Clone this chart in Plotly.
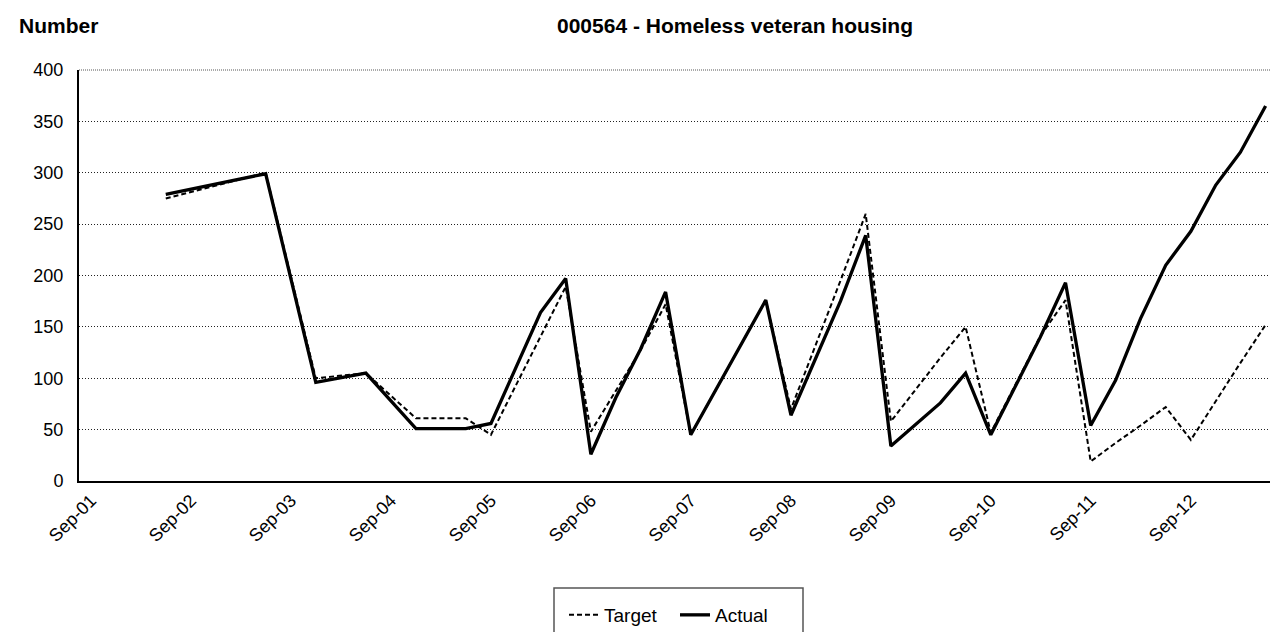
import plotly.graph_objects as go

dates = ["2002-06-01", "2003-06-01", "2003-12-01", "2004-06-01", "2004-12-01", "2005-06-01",
         "2005-09-01", "2006-03-01", "2006-06-01", "2006-09-01", "2006-12-01", "2007-03-01",
         "2007-06-01", "2007-09-01", "2008-06-01", "2008-09-01", "2009-03-01", "2009-06-01",
         "2009-09-01", "2010-03-01", "2010-06-01", "2010-09-01", "2011-03-01", "2011-06-01",
         "2011-09-01", "2011-12-01", "2012-03-01", "2012-06-01", "2012-09-01", "2012-12-01",
         "2013-03-01", "2013-06-01"]
target = [275, 300, 100, 105, 61, 61,
          45, 140, 189, 48, 88, 127,
          172, 45, 176, 70, 195, 260,
          58, 120, 150, 47, 141, 176,
          19, 37, 54, 72, 40, 78,
          115, 152]
actual = [279, 299, 96, 105, 51, 51,
          56, 164, 197, 26, 81, 128,
          184, 45, 176, 64, 175, 239,
          34, 76, 105, 45, 140, 193,
          54, 98, 158, 210, 243, 288,
          320, 365]

tick_vals = ["2001-09-01", "2002-09-01", "2003-09-01", "2004-09-01", "2005-09-01", "2006-09-01",
             "2007-09-01", "2008-09-01", "2009-09-01", "2010-09-01", "2011-09-01", "2012-09-01"]
tick_text = ["Sep-01", "Sep-02", "Sep-03", "Sep-04", "Sep-05", "Sep-06",
             "Sep-07", "Sep-08", "Sep-09", "Sep-10", "Sep-11", "Sep-12"]

FONT = "Liberation Sans, Arial, sans-serif"
W, H = 1278, 632
L, R, T, B = 71, 10, 62, 159
PW, PH = W - L - R, H - T - B


def px(x):
    return (x - L) / PW


def py(y):
    return (H - B - y) / PH


fig = go.Figure()
fig.add_trace(go.Scatter(x=dates, y=target, name="Target", mode="lines",
                         line=dict(color="black", width=2, dash="5px,3px")))
fig.add_trace(go.Scatter(x=dates, y=actual, name="Actual", mode="lines",
                         line=dict(color="black", width=3.3)))

fig.update_layout(
    width=W, height=H,
    margin=dict(l=L, r=R, t=T, b=B, autoexpand=False),
    paper_bgcolor="white", plot_bgcolor="white",
    font=dict(family=FONT, size=18, color="black"),
    showlegend=True,
    legend=dict(orientation="h", x=px(556), xanchor="left", y=py(607), yanchor="middle",
                borderwidth=0, bgcolor="rgba(0,0,0,0)", font=dict(size=19, family=FONT),
                entrywidth=66, entrywidthmode="pixels", traceorder="normal"),
    xaxis=dict(type="date", range=["2001-07-19", "2013-07-09"], automargin=False,
               tickvals=tick_vals, ticktext=tick_text, tickangle=-45,
               showgrid=False, zeroline=False, showline=True, linecolor="black", linewidth=2,
               ticks="", tickfont=dict(size=18, family=FONT)),
    yaxis=dict(range=[0, 400], dtick=50, tick0=0, automargin=False, showgrid=True,
               gridcolor="#222222", griddash="1px,2px", gridwidth=1, zeroline=False,
               showline=True, linecolor="black", linewidth=2, ticks="",
               tickfont=dict(size=18, family=FONT), ticklabelstandoff=10),
    annotations=[
        dict(text="<b>Number</b>", xref="paper", yref="paper", x=px(9), y=py(17),
             showarrow=False, xanchor="left", yanchor="middle", font=dict(size=21, family=FONT)),
        dict(text="<b>000564 - Homeless veteran housing</b>", xref="paper", yref="paper",
             x=px(907), y=py(17), showarrow=False, xanchor="right", yanchor="middle",
             font=dict(size=21, family=FONT)),
    ],
    shapes=[
        dict(type="line", xref="paper", yref="paper", x0=1, x1=1, y0=0, y1=1,
             line=dict(color="#666666", width=1.5)),
        dict(type="line", xref="paper", yref="paper", x0=0, x1=1, y0=1, y1=1,
             line=dict(color="#555555", width=1, dash="1px,1px")),
        dict(type="rect", xref="paper", yref="paper", x0=px(546), x1=px(795), y0=py(640), y1=py(580),
             line=dict(color="#555555", width=1.5), fillcolor="rgba(0,0,0,0)", layer="below"),
    ],
)

fig.write_html("out.html")
